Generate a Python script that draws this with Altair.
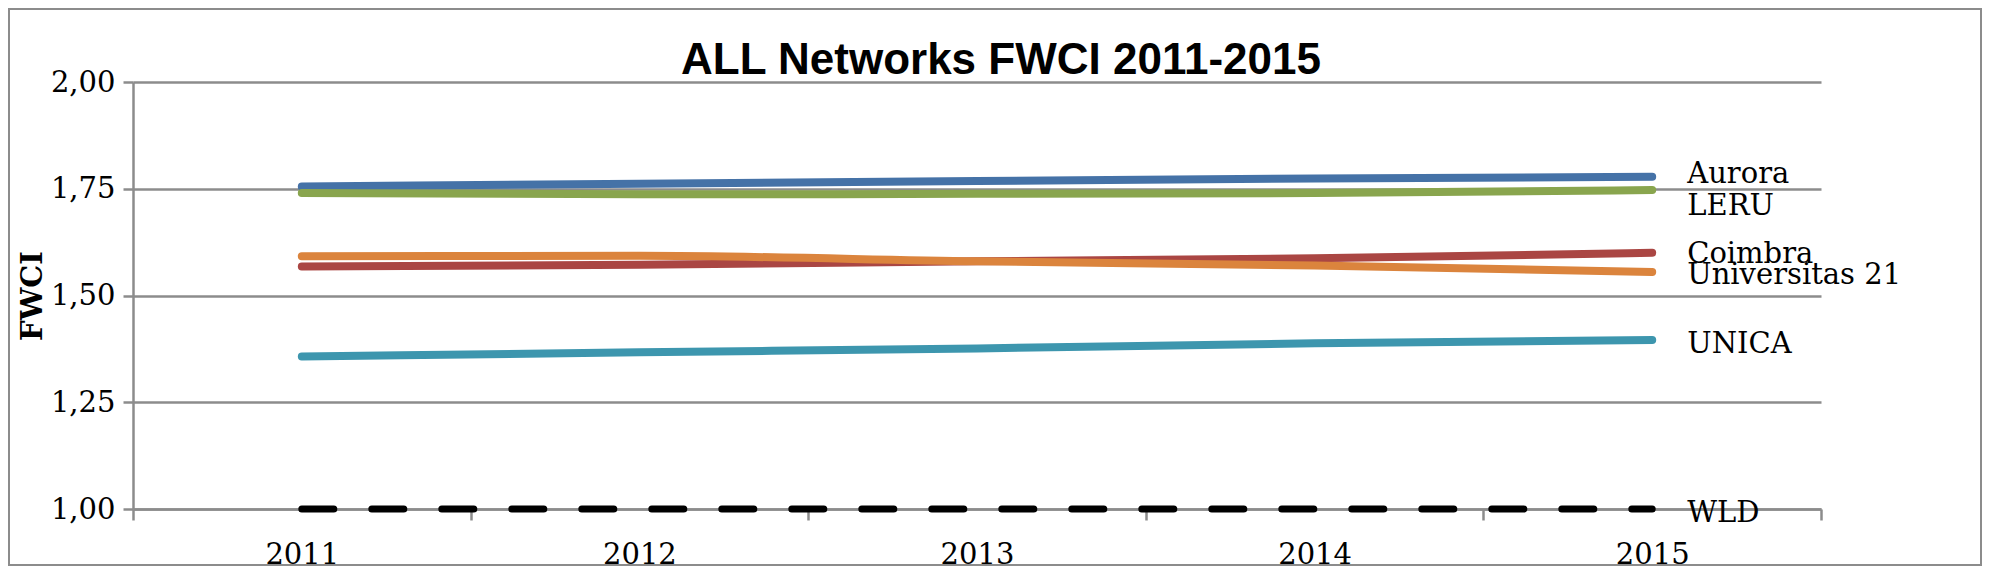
import altair as alt
import pandas as pd

# ---- data ----
years = ["2011", "2012", "2013", "2014", "2015"]
series_names = ["Aurora", "LERU", "Coimbra", "Universitas 21", "UNICA", "WLD"]
aurora = [1.755, 1.762, 1.768, 1.774, 1.778]
leru = [1.740, 1.737, 1.738, 1.740, 1.747]
coimbra = [1.568, 1.572, 1.580, 1.587, 1.600]
universitas21 = [1.592, 1.593, 1.580, 1.570, 1.555]
unica = [1.357, 1.367, 1.376, 1.388, 1.396]
wld = [1.00, 1.00, 1.00, 1.00, 1.00]
y_ticks = [1.00, 1.25, 1.50, 1.75, 2.00]
title_text = "ALL Networks FWCI 2011-2015"
y_title = "FWCI"

# ---- styles ----
colors = ["#4572A7", "#89A54E", "#AA4643", "#DB843D", "#3D96AE", "#000000"]
label_dy = {"Aurora": 6, "LERU": 25, "Coimbra": 10, "Universitas 21": 12, "UNICA": 13, "WLD": 13}
GRAY = "#8c8c8c"
SERIF = "DejaVu Serif"
W, H = 1688, 427

values = [aurora, leru, coimbra, universitas21, unica, wld]
rows = []
for name, vals in zip(series_names, values):
    for yr, v in zip(years, vals):
        rows.append({"year": yr, "series": name, "value": v})
df = pd.DataFrame(rows)

x_enc = alt.X(
    "year:O",
    bandPosition=0.5,
    scale=alt.Scale(type="band", paddingInner=0, paddingOuter=0),
    axis=alt.Axis(
        title=None, tickBand="extent", tickSize=11, labelPadding=20,
        labelAngle=0, grid=False,
    ),
)
y_enc = alt.Y(
    "value:Q",
    scale=alt.Scale(domain=[1, 2], nice=False, zero=False),
    axis=alt.Axis(
        values=y_ticks,
        labelExpr="replace(format(datum.value, '.2f'), '.', ',')",
        title=y_title, grid=True, tickSize=10, labelPadding=8,
        titleFont=SERIF, titleFontSize=29, titleFontWeight="bold",
        titleColor="black", titleAngle=270, titleX=-92, titleY=213.5,
        titleAlign="center", titleBaseline="alphabetic",
    ),
)
color_enc = alt.Color(
    "series:N",
    scale=alt.Scale(domain=series_names, range=colors),
    legend=None,
)

base = alt.Chart(df)

solid = base.transform_filter(alt.datum.series != "WLD").mark_line(
    strokeWidth=8, strokeCap="round", interpolate="monotone"
).encode(x=x_enc, y=y_enc, color=color_enc, detail="series:N")

dashed = base.transform_filter(alt.datum.series == "WLD").mark_line(
    strokeWidth=7, strokeCap="round", strokeDash=[32, 38], color="black"
).encode(x=x_enc, y=y_enc)

labels = []
for name in series_names:
    labels.append(
        base.transform_filter(
            (alt.datum.series == name) & (alt.datum.year == years[-1])
        ).mark_text(
            align="left", baseline="alphabetic", dx=35, dy=label_dy[name],
            font=SERIF, fontSize=29, color="black",
        ).encode(x=x_enc, y=y_enc, text="series:N")
    )

one_row = pd.DataFrame({"title": [title_text]})

border = alt.Chart(one_row).mark_rect(
    fillOpacity=0, stroke=GRAY, strokeWidth=2
).encode(
    x=alt.value(-124), x2=alt.value(1848), y=alt.value(-73), y2=alt.value(483)
)

title_mark = alt.Chart(one_row).mark_text(
    font="Liberation Sans", fontSize=44, fontWeight="bold", color="black",
    align="center", baseline="alphabetic",
).encode(text="title:N", x=alt.value(868), y=alt.value(-8))

chart = alt.layer(border, solid, dashed, *labels, title_mark).properties(
    width=W,
    height=H,
    autosize=alt.AutoSizeParams(type="none"),
    padding={"left": 125, "top": 74, "right": 161, "bottom": 71},
).configure_view(strokeWidth=0).configure_axis(
    domainColor=GRAY, domainWidth=2.5, tickColor=GRAY, tickWidth=2.5,
    gridColor=GRAY, gridWidth=2.5, gridOpacity=1,
    labelFont=SERIF, labelFontSize=29, labelColor="black",
)

chart.save("out.html", embed_options={"renderer": "svg", "actions": False})
